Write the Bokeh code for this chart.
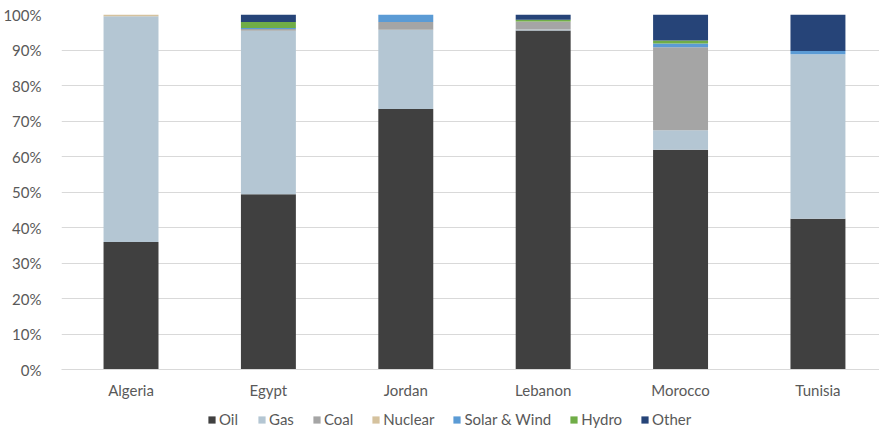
from bokeh.plotting import figure
from bokeh.layouts import column
from bokeh.models import (Range1d, FixedTicker, SingleIntervalTicker, PrintfTickFormatter,
                          Legend, LegendItem, ColumnDataSource)
from bokeh.embed import file_html
from bokeh.resources import INLINE

countries = ["Algeria", "Egypt", "Jordan", "Lebanon", "Morocco", "Tunisia"]
oil = [35.9, 49.4, 73.4, 95.5, 61.9, 42.5]
gas = [63.6, 46.0, 22.3, 0.3, 5.5, 46.3]
coal = [0.0, 0.5, 2.2, 2.2, 23.4, 0.0]
nuclear = [0.5, 0.0, 0.0, 0.0, 0.0, 0.0]
solar_wind = [0.0, 0.3, 2.1, 0.0, 1.0, 0.9]
hydro = [0.0, 1.7, 0.0, 0.5, 0.9, 0.0]
other = [0.0, 2.1, 0.0, 1.5, 7.3, 10.3]

series_names = ["Oil", "Gas", "Coal", "Nuclear", "Solar & Wind", "Hydro", "Other"]
series_keys = ["oil", "gas", "coal", "nuclear", "solar", "hydro", "other"]
colors = ["#404040", "#B4C6D3", "#A5A5A5", "#D5C29E", "#5B9BD5", "#70AD47", "#264478"]

FONT = "Lato"
TXT = "#595959"
FS = "15px"

data = dict(x=list(range(len(countries))),
            oil=oil, gas=gas, coal=coal, nuclear=nuclear,
            solar=solar_wind, hydro=hydro, other=other)
src = ColumnDataSource(data)

p = figure(frame_width=818, frame_height=355, output_backend="svg", toolbar_location=None,
           x_range=Range1d(-0.506, 5.448), y_range=Range1d(0, 100),
           min_border_left=52, min_border_right=0, min_border_top=14, min_border_bottom=36)
p.outline_line_color = None
p.background_fill_color = "white"

renderers = p.vbar_stack(series_keys, x="x", width=0.4, source=src,
                         color=colors, line_width=0)

p.xgrid.visible = False
p.ygrid.grid_line_color = "#D9D9D9"
p.ygrid.grid_line_width = 1

p.yaxis.ticker = SingleIntervalTicker(interval=10)
p.yaxis.formatter = PrintfTickFormatter(format="%d%%")
p.yaxis.axis_line_color = None
p.yaxis.major_tick_line_color = None
p.yaxis.minor_tick_line_color = None
p.yaxis.major_label_standoff = 14
p.yaxis.major_label_text_font = FONT
p.yaxis.major_label_text_font_size = FS
p.yaxis.major_label_text_color = TXT

p.xaxis.ticker = FixedTicker(ticks=list(range(len(countries))))
p.xaxis.major_label_overrides = {i: c for i, c in enumerate(countries)}
p.xaxis.axis_line_color = "#D9D9D9"
p.xaxis.major_tick_line_color = None
p.xaxis.minor_tick_line_color = None
p.xaxis.major_label_standoff = 5
p.xaxis.major_label_text_font = FONT
p.xaxis.major_label_text_font_size = FS
p.xaxis.major_label_text_color = TXT

# Legend strip: a second, axis-less figure whose swatch renderers carry only NaN
# (nothing drawn), so that only the legend with its colour swatches shows.
lg = figure(frame_width=870, frame_height=24, output_backend="svg", toolbar_location=None,
            x_axis_type=None, y_axis_type=None,
            x_range=Range1d(0, 1), y_range=Range1d(0, 1),
            min_border_left=0, min_border_right=0, min_border_top=0, min_border_bottom=0)
lg.outline_line_color = None
lg.grid.visible = False
nan_src = ColumnDataSource({k: [float("nan")] for k in data})
swatches = lg.vbar_stack(series_keys, x="x", width=0.4, source=nan_src, color=colors, line_width=0)

legend = Legend(items=[LegendItem(label=n, renderers=[r]) for n, r in zip(series_names, swatches)],
                orientation="horizontal", location=(207, 1),
                glyph_width=9, glyph_height=9, label_standoff=3, spacing=18,
                label_height=14, padding=0, margin=0,
                border_line_color=None, background_fill_alpha=0,
                label_text_font=FONT, label_text_font_size=FS, label_text_color=TXT)
lg.add_layout(legend, "center")

layout = column(p, lg, spacing=0)
open("out.html", "w").write(file_html(layout, INLINE))
